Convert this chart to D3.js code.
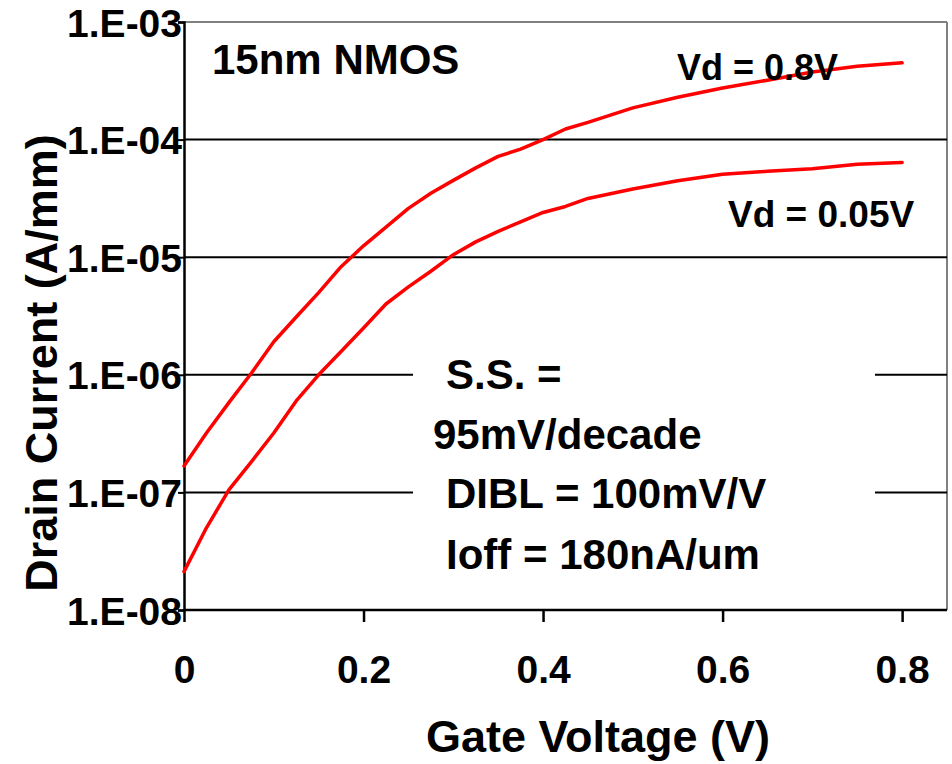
<!DOCTYPE html>
<html>
<head>
<meta charset="utf-8">
<script src="https://cdn.jsdelivr.net/npm/d3@7/dist/d3.min.js"></script>
<style>
  html, body { margin: 0; padding: 0; background: #fff; }
  svg { display: block; }
  text { font-family: "Liberation Sans", Arial, sans-serif; font-weight: bold; fill: #000; }
</style>
</head>
<body>
<svg id="chart" width="952" height="764"></svg>
<script>
// ---- data ----
const gateVoltage = [0, 0.025, 0.05, 0.075, 0.1, 0.125, 0.15, 0.175, 0.2, 0.225, 0.25, 0.275, 0.3, 0.325, 0.35, 0.375, 0.4, 0.425, 0.45, 0.5, 0.55, 0.6, 0.65, 0.7, 0.75, 0.8];
const idVd08 = [1.68e-7, 3.2e-7, 5.8e-7, 1.03e-6, 1.91e-6, 3.1e-6, 5.0e-6, 8.3e-6, 1.25e-5, 1.8e-5, 2.6e-5, 3.5e-5, 4.5e-5, 5.75e-5, 7.2e-5, 8.3e-5, 1.0e-4, 1.23e-4, 1.40e-4, 1.86e-4, 2.29e-4, 2.75e-4, 3.2e-4, 3.76e-4, 4.2e-4, 4.5e-4];
const idVd005 = [2.12e-8, 5.0e-8, 1.05e-7, 1.82e-7, 3.2e-7, 6.0e-7, 1.0e-6, 1.58e-6, 2.5e-6, 4.0e-6, 5.6e-6, 7.6e-6, 1.05e-5, 1.35e-5, 1.66e-5, 2.0e-5, 2.4e-5, 2.7e-5, 3.16e-5, 3.8e-5, 4.47e-5, 5.07e-5, 5.37e-5, 5.66e-5, 6.17e-5, 6.4e-5];
const yTickValues = [1e-8, 1e-7, 1e-6, 1e-5, 1e-4, 1e-3];
const yTickLabels = ["1.E-08", "1.E-07", "1.E-06", "1.E-05", "1.E-04", "1.E-03"];
const xTickValues = [0, 0.2, 0.4, 0.6, 0.8];
const xTickLabels = ["0", "0.2", "0.4", "0.6", "0.8"];
const seriesLabels = ["Vd = 0.8V", "Vd = 0.05V"];
const chartTitle = "15nm NMOS";
const noteLines = ["S.S. =", "95mV/decade", "DIBL = 100mV/V", "Ioff = 180nA/um"];
const xTitle = "Gate Voltage (V)";
const yTitle = "Drain Current (A/mm)";

// ---- layout ----
const L = 184, R = 947, T = 22, B = 610;
const svg = d3.select("#chart");
const x = d3.scaleLinear().domain([0, 0.85]).range([L, R]);
const y = d3.scaleLog().domain([1e-8, 1e-3]).range([B, T]);

// frame top/right (gray)
svg.append("line").attr("x1", L).attr("x2", R).attr("y1", T).attr("y2", T).attr("stroke", "#808080").attr("stroke-width", 2);
svg.append("line").attr("x1", R).attr("x2", R).attr("y1", T).attr("y2", B).attr("stroke", "#808080").attr("stroke-width", 2);

// gridlines
svg.append("g").selectAll("line").data(yTickValues.filter(v => v > 1e-8 && v < 1e-3)).join("line")
  .attr("x1", L).attr("x2", R).attr("y1", d => y(d)).attr("y2", d => y(d))
  .attr("stroke", "#000").attr("stroke-width", 2);

// y axis
const yAxis = d3.axisLeft(y).tickValues(yTickValues).tickSize(6).tickFormat((d, i) => yTickLabels[i]);
const gy = svg.append("g").attr("transform", `translate(${L},0)`).call(yAxis);
gy.select(".domain").attr("stroke", "#000").attr("stroke-width", 2.5);
gy.selectAll(".tick line").attr("stroke", "#000").attr("stroke-width", 2);
gy.selectAll(".tick text").attr("x", -2).attr("dy", "0.36em").style("font-size", "39px").style("font-family", "Liberation Sans, Arial, sans-serif").style("font-weight", "bold").attr("fill", "#000");

// x axis
const xAxis = d3.axisBottom(x).tickValues(xTickValues).tickSize(12).tickSizeOuter(0).tickFormat((d, i) => xTickLabels[i]);
const gx = svg.append("g").attr("transform", `translate(0,${B})`).call(xAxis);
gx.select(".domain").attr("stroke", "#000").attr("stroke-width", 2.5).attr("d", `M${L},0H${R}`);
gx.selectAll(".tick line").attr("stroke", "#000").attr("stroke-width", 2.5);
gx.selectAll(".tick text").attr("y", 73).attr("dy", 0).style("font-size", "39px").style("font-family", "Liberation Sans, Arial, sans-serif").style("font-weight", "bold").attr("fill", "#000");

// curves
const line = d3.line().x(d => x(d[0])).y(d => y(d[1]));
[idVd08, idVd005].forEach(series => {
  svg.append("path").datum(gateVoltage.map((v, i) => [v, series[i]]))
    .attr("d", line).attr("fill", "none").attr("stroke", "#ff0000").attr("stroke-width", 3.5)
    .attr("stroke-linejoin", "round").attr("stroke-linecap", "round");
});

// note box (white background hides gridlines)
svg.append("rect").attr("x", 413).attr("y", 345).attr("width", 462).attr("height", 250).attr("fill", "#fff");
const notePos = [[446, 389], [433, 449], [446, 508], [446, 569]];
svg.append("g").selectAll("text").data(noteLines).join("text")
  .attr("x", (d, i) => notePos[i][0]).attr("y", (d, i) => notePos[i][1])
  .style("font-size", "42px").text(d => d);

// labels
svg.append("text").attr("x", 212).attr("y", 74).style("font-size", "42px").text(chartTitle);
svg.append("text").attr("x", 677).attr("y", 80).style("font-size", "36px").text(seriesLabels[0]);
svg.append("text").attr("x", 728).attr("y", 227).style("font-size", "37px").text(seriesLabels[1]);

// axis titles
svg.append("text").attr("x", 598).attr("y", 752).attr("text-anchor", "middle").style("font-size", "45px").text(xTitle);
svg.append("text").attr("transform", "translate(57,363) rotate(-90)").attr("text-anchor", "middle").style("font-size", "45px").text(yTitle);
</script>
</body>
</html>
